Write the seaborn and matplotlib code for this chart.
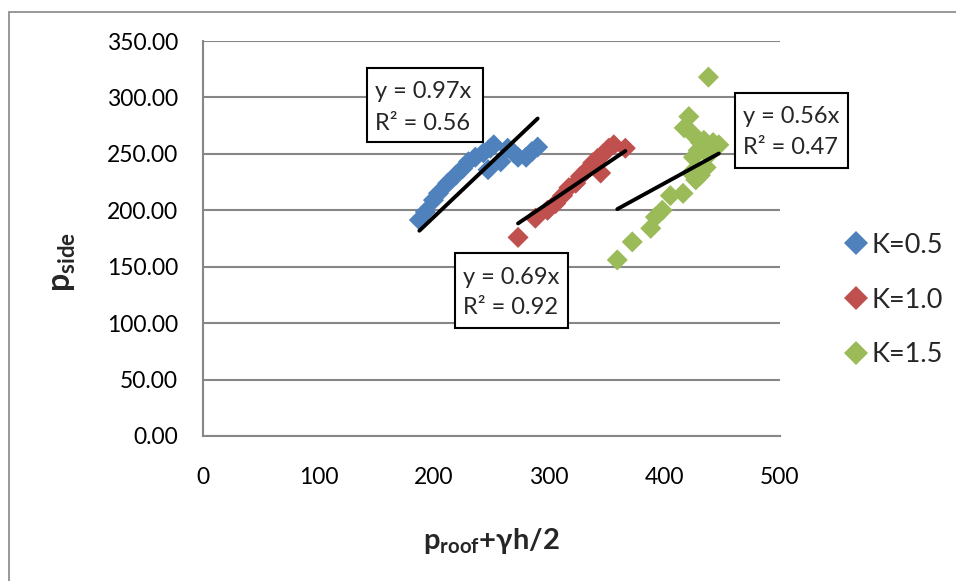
import matplotlib
matplotlib.use("Agg")
import matplotlib.pyplot as plt
import seaborn as sns
import pandas as pd
import numpy as np
from matplotlib.patches import Rectangle

# Measured points for each K value
k05_x = [187.5, 192.7, 199.7, 204, 212, 219, 225, 230, 236, 243, 249, 252,
         247, 258, 264, 269, 273, 280, 285, 290]
k05_y = [191.4, 198.5, 209, 215, 224, 231, 237, 243, 247, 251, 255, 258,
         236, 243, 255, 251, 247, 247, 252, 256]

k10_x = [273, 288, 298.6, 305.6, 311.6, 317, 323, 327, 333, 337.7, 342,
         344.6, 347, 351.6, 356, 366]
k10_y = [176, 193, 200, 206, 213, 220, 224, 230, 236, 242, 246,
         233, 250, 255, 258, 255]

k15_x = [438, 359, 372, 388, 392, 398, 405, 416, 421, 417, 423, 423, 427,
         431, 431, 434, 438, 442, 447, 425, 429, 436]
k15_y = [318, 156, 172, 184, 194, 200, 213, 215, 283, 273, 269, 233, 227,
         231, 260, 262, 249, 260, 258, 247, 253, 238]

series_labels = ["K=0.5", "K=1.0", "K=1.5"]
slopes = [0.97, 0.69, 0.56]
r2_values = [0.56, 0.92, 0.47]
colors = ["#4F81BD", "#C0504D", "#9BBB59"]

x_ticks = [0, 100, 200, 300, 400, 500]
y_ticks = [0, 50, 100, 150, 200, 250, 300, 350]

df = pd.concat([
    pd.DataFrame({"x": k05_x, "y": k05_y, "K": series_labels[0]}),
    pd.DataFrame({"x": k10_x, "y": k10_y, "K": series_labels[1]}),
    pd.DataFrame({"x": k15_x, "y": k15_y, "K": series_labels[2]}),
], ignore_index=True)

sns.set_style("white")
plt.rcParams["font.family"] = ["Lato", "DejaVu Sans"]
plt.rcParams["mathtext.fontset"] = "custom"
plt.rcParams["mathtext.rm"] = "Lato"
plt.rcParams["mathtext.bf"] = "Lato:bold"
plt.rcParams["mathtext.it"] = "Lato:italic"

W, H = 956, 581
fig = plt.figure(figsize=(W / 100, H / 100), dpi=100)
ax = fig.add_axes([203 / W, 1 - 436 / H, (780 - 203) / W, (436 - 41) / H])

# chart-area border
fig.patches.append(Rectangle((9 / W, -0.1), 1.2, 1 - 12 / H + 0.1,
                             transform=fig.transFigure, fill=False,
                             edgecolor="#868686", linewidth=1.2))

ax.yaxis.grid(True, color="#868686", linewidth=1.5)
ax.xaxis.grid(False)
ax.set_axisbelow(True)

sns.scatterplot(data=df, x="x", y="y", hue="K", palette=colors, marker="D",
                s=115, edgecolor="none", linewidth=0, ax=ax, legend=True,
                zorder=3)

# zero-intercept trend lines
series = [(k05_x, k05_y), (k10_x, k10_y), (k15_x, k15_y)]
for (xs, _), m in zip(series, slopes):
    xr = np.array([min(xs), max(xs)])
    ax.plot(xr, m * xr, color="black", linewidth=2.8, zorder=4,
            solid_capstyle="round")

ax.set_xlim(0, 500)
ax.set_ylim(0, 350)
ax.set_xticks(x_ticks)
ax.set_yticks(y_ticks)
ax.set_xticklabels([str(t) for t in x_ticks])
ax.set_yticklabels([f"{t:.2f}" for t in y_ticks])
ax.tick_params(axis="both", length=0, labelsize=16.5, colors="black")
ax.tick_params(axis="y", pad=18)
ax.tick_params(axis="x", pad=22)

for side in ["top", "right"]:
    ax.spines[side].set_visible(False)
for side in ["left", "bottom"]:
    ax.spines[side].set_color("#868686")
    ax.spines[side].set_linewidth(1.5)

ax.set_xlabel("")
ax.set_ylabel("")
fig.text(491 / W, 1 - 541 / H, r"$\mathbf{p_{roof}}$$\mathbf{+}$γ$\mathbf{h/2}$",
         ha="center", va="center", fontsize=21, fontweight="bold")
fig.text(63 / W, 1 - 262 / H, r"$\mathbf{p_{side}}$", ha="center", va="center",
         rotation=90, fontsize=23, fontweight="bold")

# equation boxes
boxes = [(367, 68, 483, 142), (455, 253, 568, 328), (735, 93, 848, 168)]
for (x0, y0, x1, y1), m, r2 in zip(boxes, slopes, r2_values):
    fig.patches.append(Rectangle((x0 / W, 1 - y1 / H), (x1 - x0) / W, (y1 - y0) / H,
                                 transform=fig.transFigure, facecolor="white",
                                 edgecolor="black", linewidth=1.5, zorder=5))
    fig.text((x0 + 8) / W, 1 - (y0 + 24) / H, f"y = {m:.2f}x", ha="left",
             va="center", fontsize=17, zorder=6)
    fig.text((x0 + 8) / W, 1 - (y0 + 55) / H, f"R² = {r2:.2f}", ha="left",
             va="center", fontsize=17, zorder=6)

handles, labels = ax.get_legend_handles_labels()
ax.legend(handles, labels, loc="center left", bbox_to_anchor=(832 / W, 1 - 300 / H),
          bbox_transform=fig.transFigure, frameon=False, fontsize=19.5,
          handletextpad=0.05, labelspacing=1.1, handlelength=1.0,
          markerscale=1.1, borderaxespad=0)

fig.savefig("out.png", dpi=100)
